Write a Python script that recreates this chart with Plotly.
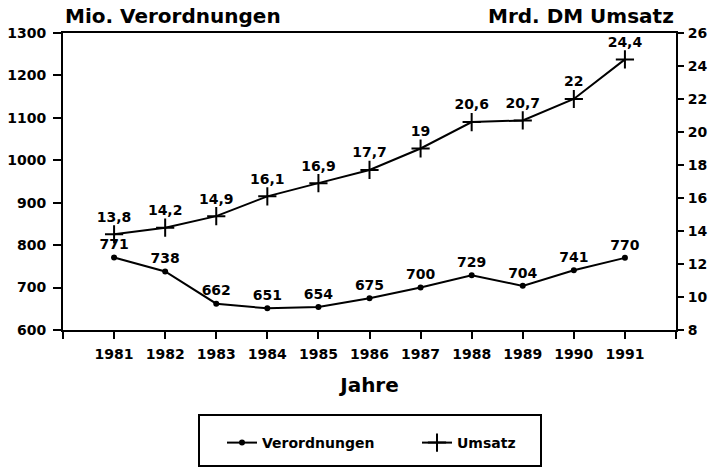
import plotly.graph_objects as go

years = [1981, 1982, 1983, 1984, 1985, 1986, 1987, 1988, 1989, 1990, 1991]
verordnungen = [771, 738, 662, 651, 654, 675, 700, 729, 704, 741, 770]
umsatz = [13.8, 14.2, 14.9, 16.1, 16.9, 17.7, 19.0, 20.6, 20.7, 22.0, 24.4]
umsatz_labels = ["13,8", "14,2", "14,9", "16,1", "16,9", "17,7", "19", "20,6", "20,7", "22", "24,4"]
verordnungen_labels = [str(v) for v in verordnungen]
left_ticks = [600, 700, 800, 900, 1000, 1100, 1200, 1300]
right_ticks = [8, 10, 12, 14, 16, 18, 20, 22, 24, 26]

FONT = "DejaVu Sans"
tickfont = dict(family=FONT, size=14, color="black", weight="bold")

fig = go.Figure()
fig.add_trace(go.Scatter(
    x=years, y=verordnungen, name="Verordnungen",
    mode="lines+markers+text", text=verordnungen_labels, textposition="top center",
    textfont=tickfont,
    line=dict(color="black", width=2),
    marker=dict(symbol="circle", size=6, color="black"),
    yaxis="y"))
fig.add_trace(go.Scatter(
    x=years, y=umsatz, name="Umsatz",
    mode="lines+markers+text", text=umsatz_labels, textposition="top center",
    textfont=tickfont,
    line=dict(color="black", width=2),
    marker=dict(symbol="cross-thin", size=13, color="black",
                line=dict(color="black", width=2)),
    yaxis="y2"))

fig.update_layout(
    width=716, height=468,
    margin=dict(l=63, r=40, t=33, b=138),
    paper_bgcolor="white", plot_bgcolor="white",
    font=dict(family=FONT, color="black"),
    showlegend=True,
    xaxis=dict(range=[1980, 1992], tickmode="array",
               tickvals=[1980] + years + [1992],
               ticktext=[""] + [str(y) for y in years] + [""],
               ticks="outside", ticklen=7, tickwidth=2, tickcolor="black",
               ticklabelstandoff=3,
               showline=True, linewidth=2, linecolor="black", mirror=True,
               showgrid=False, zeroline=False, tickfont=tickfont, automargin=False,
               title=dict(text="Jahre", font=dict(family=FONT, size=20, weight="bold"), standoff=17)),
    yaxis=dict(range=[600, 1300], tickvals=left_ticks,
               ticks="outside", ticklen=8, tickwidth=2, tickcolor="black",
               ticklabelstandoff=4,
               showline=True, linewidth=2, linecolor="black",
               showgrid=False, zeroline=False, tickfont=tickfont, automargin=False),
    yaxis2=dict(range=[8, 26], tickvals=right_ticks, overlaying="y", side="right",
                ticks="outside", ticklen=6, tickwidth=2, tickcolor="black",
                ticklabelstandoff=1,
                showline=True, linewidth=2, linecolor="black",
                showgrid=False, zeroline=False, tickfont=tickfont, automargin=False),
    legend=dict(orientation="h", xref="container", yref="container",
                x=222 / 716, xanchor="left", y=1 - 443 / 468, yanchor="middle",
                borderwidth=0, bgcolor="rgba(0,0,0,0)",
                font=dict(family=FONT, size=14, weight="bold"),
                entrywidth=150, itemwidth=30),
    shapes=[dict(type="rect", xref="paper", yref="paper",
                 x0=(199 - 63) / 613, x1=(541 - 63) / 613,
                 y0=(330 - 466) / 297, y1=(330 - 415) / 297,
                 line=dict(color="black", width=2))],
    annotations=[
        dict(text="Mio. Verordnungen", xref="paper", yref="paper", x=0, y=1.0,
             xanchor="left", yanchor="bottom", yshift=3, showarrow=False,
             font=dict(family=FONT, size=20, weight="bold")),
        dict(text="Mrd. DM Umsatz", xref="paper", yref="paper", x=1.0, y=1.0,
             xanchor="right", yanchor="bottom", yshift=3, showarrow=False,
             font=dict(family=FONT, size=20, weight="bold")),
    ],
)

fig.write_html("out.html",
               config={"displayModeBar": False, "responsive": False},
               post_script="document.body.style.margin='0';")
